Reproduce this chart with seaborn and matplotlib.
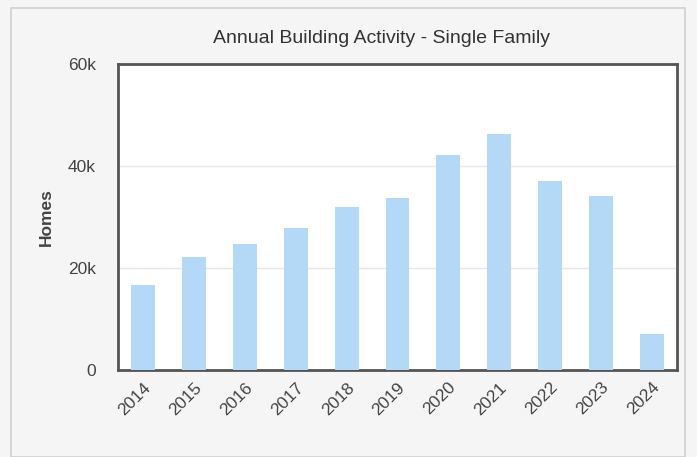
import matplotlib
matplotlib.use("Agg")
import matplotlib.pyplot as plt
import seaborn as sns
import pandas as pd
from matplotlib.patches import Rectangle

years = ["2014", "2015", "2016", "2017", "2018", "2019", "2020", "2021", "2022", "2023", "2024"]
homes = [16700, 22200, 24700, 27800, 32000, 33700, 42200, 46300, 37100, 34100, 7100]
yticks = [0, 20000, 40000, 60000]
ytick_labels = ["0", "20k", "40k", "60k"]

df = pd.DataFrame({"year": years, "homes": homes})

sns.set_style("white")
plt.rcParams["font.family"] = ["Liberation Sans", "DejaVu Sans"]

fig = plt.figure(figsize=(6.97, 4.57), dpi=100, facecolor="#f5f5f5")
# outer panel border
fig.patches.append(Rectangle((11 / 697, 0), 1 - 23 / 697, 1 - 8 / 457, transform=fig.transFigure,
                             fill=False, edgecolor="#d0d0d0", linewidth=1.2))
ax = fig.add_axes([118 / 697, 87 / 457, 559 / 697, 306 / 457])
ax.set_facecolor("white")

sns.barplot(data=df, x="year", y="homes", color="#b3d9f7", saturation=1, width=0.47,
            edgecolor="none", linewidth=0, ax=ax, zorder=3)

ax.set_ylim(0, 60000)
ax.set_yticks(yticks)
ax.set_yticklabels(ytick_labels, fontsize=12.5, color="#444444")
ax.yaxis.grid(True, color="#e8e8e8", linewidth=1, zorder=0)
ax.set_axisbelow(True)
ax.tick_params(axis="y", length=0, pad=16)
ax.tick_params(axis="x", length=0, pad=7)
plt.setp(ax.get_xticklabels(), rotation=45, ha="right", rotation_mode="anchor", fontsize=12.5, color="#444444")
ax.set_xlabel("")
ax.set_ylabel("Homes", fontsize=12.5, fontweight="bold", color="#444444", labelpad=10)
for s in ax.spines.values():
    s.set_visible(True)
    s.set_color("#555555")
    s.set_linewidth(2)

fig.text(0.548, 0.915, "Annual Building Activity - Single Family", ha="center", va="center",
         fontsize=14, color="#333333")

fig.savefig("out.png", dpi=100, facecolor=fig.get_facecolor())
